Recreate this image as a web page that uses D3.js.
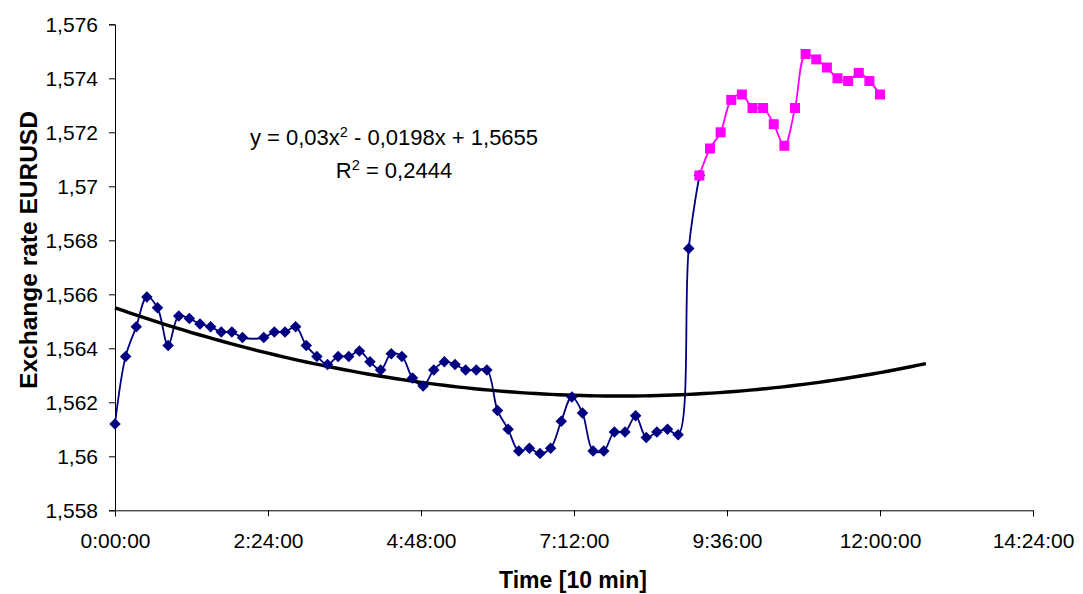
<!DOCTYPE html>
<html>
<head>
<meta charset="utf-8">
<script src="https://cdn.jsdelivr.net/npm/d3@7"></script>
<style>
  html, body { margin: 0; padding: 0; background: #fff; }
  svg { display: block; font-family: "Liberation Sans", Arial, sans-serif; }
</style>
</head>
<body>
<svg id="chart" width="1083" height="594"></svg>
<script>
// EURUSD quotes, one per 10-minute step (step 13 has no quote)
const blueSteps = [0,1,2,3,4,5,6,7,8,9,10,11,12,
  14,15,16,17,18,19,20,21,22,23,24,25,26,27,28,29,30,31,32,33,34,35,36,37,38,39,40,
  41,42,43,44,45,46,47,48,49,50,51,52,53,54,55];
const blueValues = [1.5612,1.5637,1.5648,1.5659,1.5655,1.5641,1.5652,1.5651,1.5649,1.5648,1.5646,1.5646,1.5644,
  1.5644,1.5646,1.5646,1.5648,1.5641,1.5637,1.5634,1.5637,1.5637,1.5639,1.5635,1.5632,1.5638,1.5637,1.5629,1.5626,
  1.5632,1.5635,1.5634,1.5632,1.5632,1.5632,1.5617,1.5610,1.5602,1.5603,1.5601,
  1.5603,1.5613,1.5622,1.5616,1.5602,1.5602,1.5609,1.5609,1.5615,1.5607,1.5609,1.5610,1.5608,1.5677,1.5704];

const pinkSteps = [55,56,57,58,59,60,61,62,63,64,65,66,67,68,69,70,71,72];
const pinkValues = [1.5704,1.5714,1.5720,1.5732,1.5734,1.5729,1.5729,1.5723,1.5715,1.5729,
  1.5749,1.5747,1.5744,1.5740,1.5739,1.5742,1.5739,1.5734];

// Polynomial trendline y = a*x^2 + b*x + c (x in days)
const trendCoef = [0.03, -0.0198, 1.5655];
const trendRange = [0, 0.53];

const yTicks = [1.558,1.560,1.562,1.564,1.566,1.568,1.570,1.572,1.574,1.576];
const xTicks = [0, 0.1, 0.2, 0.3, 0.4, 0.5, 0.6];
const xTickLabels = ["0:00:00","2:24:00","4:48:00","7:12:00","9:36:00","12:00:00","14:24:00"];

const svg = d3.select("#chart");
const plotLeft = 115, plotRight = 1033, plotTop = 24.3, plotBottom = 510.3;

const x = d3.scaleLinear().domain([0, 0.6]).range([plotLeft, plotRight]);
const y = d3.scaleLinear().domain([1.558, 1.576]).range([plotBottom, plotTop]);
const stepToDay = s => s * 10 / 1440;

const fmt = v => String(+v.toFixed(3)).replace(".", ",");

// Axes
const yAxis = d3.axisLeft(y).tickValues(yTicks).tickFormat(fmt).tickSize(6).tickPadding(11);
const xAxis = d3.axisBottom(x).tickValues(xTicks).tickFormat((d, i) => xTickLabels[i]).tickSize(6).tickPadding(17);

const gy = svg.append("g").attr("transform", `translate(${plotLeft},0)`).call(yAxis);
const gx = svg.append("g").attr("transform", `translate(0,${plotBottom})`).call(xAxis);
[gx, gy].forEach(g => {
  g.select(".domain").attr("stroke", "#000").attr("stroke-width", 1);
  g.selectAll(".tick line").attr("stroke", "#000");
  g.selectAll(".tick text").attr("fill", "#000").attr("font-size", 21)
    .attr("font-family", "Liberation Sans, Arial, sans-serif");
});

// Axis titles
svg.append("text").attr("x", (plotLeft + plotRight) / 2 - 1).attr("y", 588)
  .attr("text-anchor", "middle").attr("font-size", 23).attr("font-weight", "bold")
  .text("Time [10 min]");
svg.append("text").attr("transform", "translate(37,250) rotate(-90)")
  .attr("text-anchor", "middle").attr("font-size", 24.5).attr("font-weight", "bold")
  .text("Exchange rate EURUSD");

const smooth = d3.line().curve(d3.curveCatmullRom.alpha(0.5));
const bluePts = blueSteps.map((s, i) => [x(stepToDay(s)), y(blueValues[i])]);
const pinkPts = pinkSteps.map((s, i) => [x(stepToDay(s)), y(pinkValues[i])]);

// Blue series line
svg.append("path").attr("d", smooth(bluePts)).attr("fill", "none")
  .attr("stroke", "#000080").attr("stroke-width", 1.8);

// Trendline
const trendX = d3.range(trendRange[0], trendRange[1] + 1e-9, 0.005);
const trendPts = trendX.map(d => [x(d), y(trendCoef[0] * d * d + trendCoef[1] * d + trendCoef[2])]);
svg.append("path").attr("d", d3.line()(trendPts)).attr("fill", "none")
  .attr("stroke", "#000").attr("stroke-width", 3.4);

// Blue diamonds
svg.append("g").selectAll("path").data(bluePts).join("path")
  .attr("transform", d => `translate(${d[0]},${d[1]}) rotate(45)`)
  .attr("d", d3.symbol().type(d3.symbolSquare).size(66))
  .attr("fill", "#000080");

// Magenta series
svg.append("path").attr("d", smooth(pinkPts)).attr("fill", "none")
  .attr("stroke", "#FF00FF").attr("stroke-width", 1.8);
svg.append("g").selectAll("rect").data(pinkPts).join("rect")
  .attr("x", d => d[0] - 5).attr("y", d => d[1] - 5)
  .attr("width", 10).attr("height", 10).attr("fill", "#FF00FF");

// Trendline equation
const eq = svg.append("text").attr("x", 394).attr("y", 145).attr("text-anchor", "middle")
  .attr("font-size", 22).attr("fill", "#000");
eq.append("tspan").text("y = 0,03x");
eq.append("tspan").attr("dy", -8).attr("font-size", 14.5).text("2");
eq.append("tspan").attr("dy", 8).text(" - 0,0198x + 1,5655");
const r2 = svg.append("text").attr("x", 394).attr("y", 178).attr("text-anchor", "middle")
  .attr("font-size", 22).attr("fill", "#000");
r2.append("tspan").text("R");
r2.append("tspan").attr("dy", -8).attr("font-size", 14.5).text("2");
r2.append("tspan").attr("dy", 8).text(" = 0,2444");
</script>
</body>
</html>
